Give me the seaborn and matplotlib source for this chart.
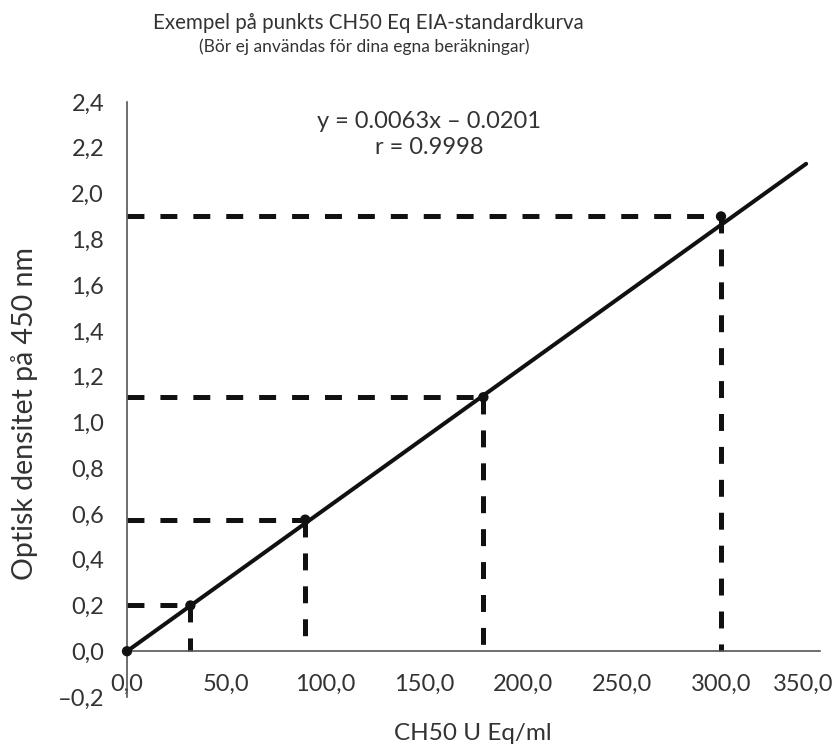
import numpy as np
import pandas as pd
import matplotlib
matplotlib.use("Agg")
import matplotlib.pyplot as plt
import matplotlib.transforms as mtransforms
import seaborn as sns

# ---- data ----
point_x = [0.0, 32.0, 90.0, 180.0, 300.0]
point_y = [0.0, 0.20, 0.575, 1.11, 1.90]
line_x = [0.0, 343.0]
line_y = [0.0, 2.13]
x_ticks = [0, 50, 100, 150, 200, 250, 300, 350]
x_tick_labels = ["0,0", "50,0", "100,0", "150,0", "200,0", "250,0", "300,0", "350,0"]
y_ticks = [-0.2, 0.0, 0.2, 0.4, 0.6, 0.8, 1.0, 1.2, 1.4, 1.6, 1.8, 2.0, 2.2, 2.4]
y_tick_labels = ["–0,2", "0,0", "0,2", "0,4", "0,6", "0,8", "1,0", "1,2", "1,4",
                 "1,6", "1,8", "2,0", "2,2", "2,4"]
title = "Exempel på punkts CH50 Eq EIA-standardkurva"
subtitle = "(Bör ej användas för dina egna beräkningar)"
equation = "y = 0.0063x – 0.0201\nr = 0.9998"
x_label = "CH50 U Eq/ml"
y_label = "Optisk densitet på 450 nm"

sns.set_theme(style="white")
plt.rcParams["font.family"] = ["Lato", "DejaVu Sans"]
TXT = "#333333"
AX = "#555555"

fig = plt.figure(figsize=(8.4, 7.47), dpi=100)
ax = fig.add_axes([127 / 840, 1 - 697 / 747, (820 - 127) / 840, (697 - 102) / 747])

pts = pd.DataFrame({"x": point_x, "y": point_y})
ln = pd.DataFrame({"x": line_x, "y": line_y})

# dashed guide lines
lw_d = 3.6
dash_style = (0, (12.2 / lw_d, 11.5 / lw_d))
ax.hlines(pts["y"][1:], xmin=0, xmax=pts["x"][1:], colors="#111111",
          linewidth=lw_d, linestyles=[dash_style], zorder=2)
ax.vlines(pts["x"][1:], ymin=pts["y"][1:], ymax=0, colors="#111111",
          linewidth=lw_d, linestyles=[dash_style], zorder=2)

sns.lineplot(data=ln, x="x", y="y", ax=ax, color="#111111", linewidth=2.9, zorder=3)
sns.scatterplot(data=pts, x="x", y="y", ax=ax, color="#111111", s=55,
                edgecolor="none", zorder=4, clip_on=False)

ax.set_xlim(0, 350)
ax.set_ylim(-0.2, 2.4)
ax.set_xticks(x_ticks)
ax.set_xticklabels(x_tick_labels)
ax.set_yticks(y_ticks)
ax.set_yticklabels(y_tick_labels)
ax.set_xlabel("")
ax.set_ylabel("")

for s in ["top", "right"]:
    ax.spines[s].set_visible(False)
ax.spines["bottom"].set_position(("data", 0))
for s in ["left", "bottom"]:
    ax.spines[s].set_color(AX)
    ax.spines[s].set_linewidth(1.2)

ax.tick_params(axis="both", which="major", direction="out", length=6.5, width=1.2,
               color=AX, labelcolor=TXT, labelsize=17)
ax.tick_params(axis="y", pad=10)
ax.tick_params(axis="x", pad=10)
ax.yaxis.get_major_ticks()[0].tick1line.set_visible(False)
ax.xaxis.get_major_ticks()[0].tick1line.set_visible(False)

# last x tick label is pulled left to stay inside the figure
last = ax.get_xticklabels()[-1]
last.set_transform(last.get_transform() +
                   mtransforms.ScaledTranslation(-17 / 100, 0, fig.dpi_scale_trans))

ax.text(0.436, 0.945, equation, transform=ax.transAxes, ha="center", va="center",
        fontsize=17, color=TXT, linespacing=1.3)

fig.text(368 / 840, 1 - 23 / 747, title, ha="center", va="center",
         fontsize=14.8, color=TXT)
fig.text(364 / 840, 1 - 47 / 747, subtitle, ha="center", va="center",
         fontsize=12.5, color=TXT)
fig.text(473 / 840, 1 - 734 / 747, x_label, ha="center", va="center",
         fontsize=17.5, color=TXT)
fig.text(25 / 840, 1 - 413 / 747, y_label, ha="center", va="center",
         rotation=90, fontsize=20.5, color=TXT)

fig.savefig("out.png", dpi=100)
